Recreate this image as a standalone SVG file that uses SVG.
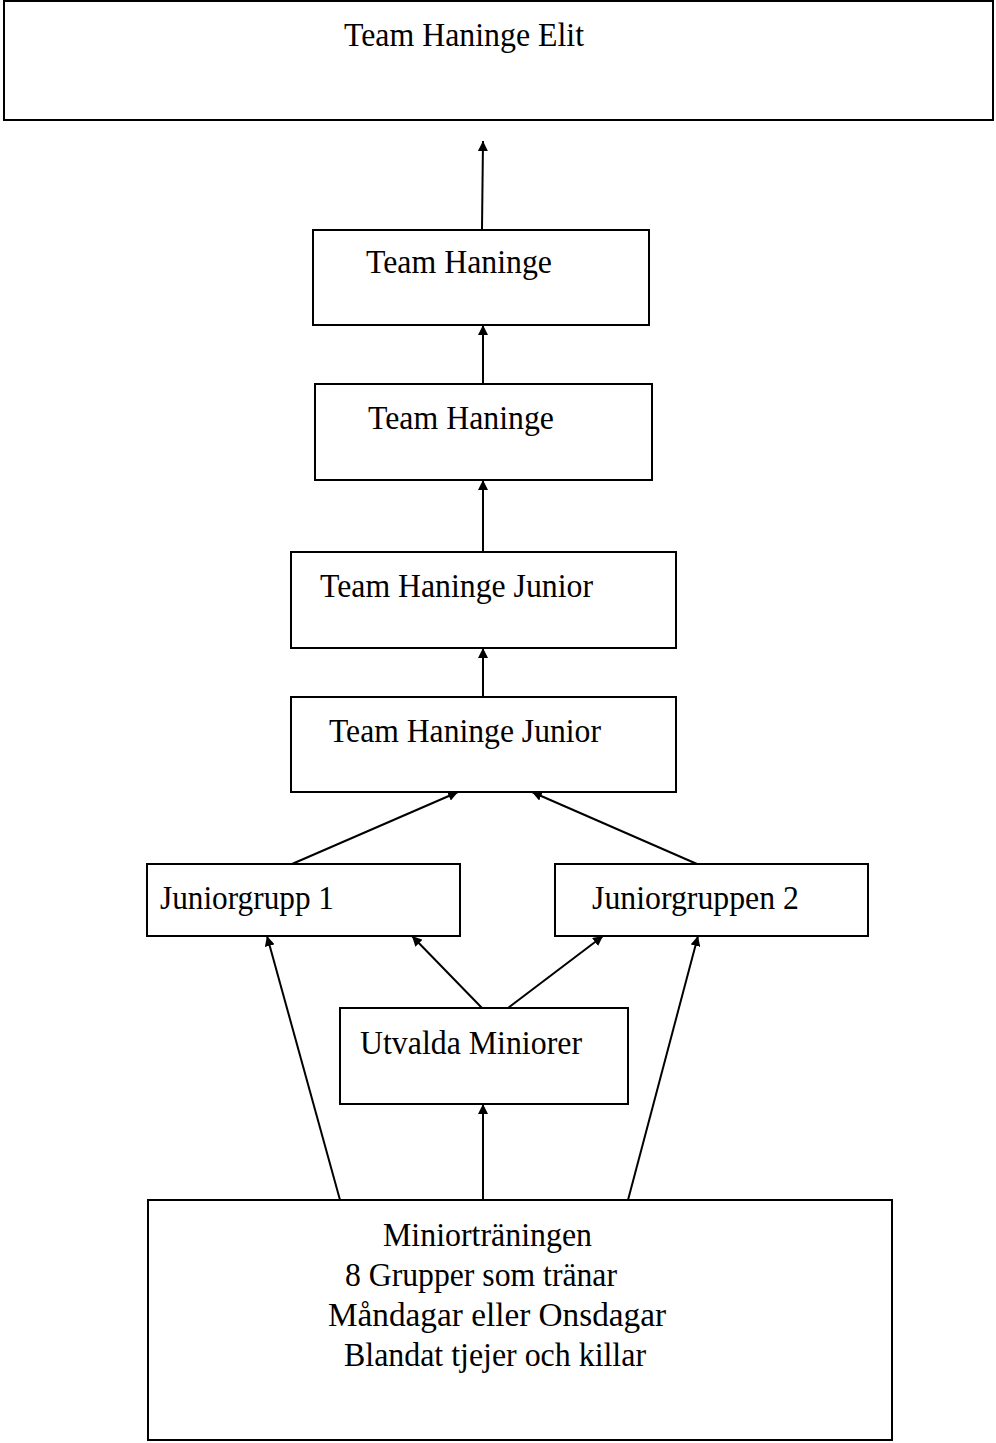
<svg xmlns="http://www.w3.org/2000/svg" width="996" height="1443" viewBox="0 0 996 1443">
<style>
.box{fill:#fff;stroke:#000;stroke-width:2}
.t{font-family:"Liberation Serif","Times New Roman",serif;font-size:34px;fill:#000}
.c{stroke:#000;stroke-width:2;fill:none;marker-end:url(#ah)}
</style>
<defs>
<marker id="ah" viewBox="0 0 10 10" refX="10" refY="5" markerWidth="5" markerHeight="5" orient="auto" markerUnits="strokeWidth">
<path d="M0,0 L10,5 L0,10 z" fill="#000"/>
</marker>
</defs>
<rect width="996" height="1443" fill="#fff"/>
<g id="connectors">
<line class="c" x1="482" y1="229" x2="483" y2="141"/>
<line class="c" x1="483" y1="384" x2="483" y2="325"/>
<line class="c" x1="483" y1="552" x2="483" y2="480"/>
<line class="c" x1="483" y1="697" x2="483" y2="648"/>
<line class="c" x1="292" y1="864" x2="458" y2="792"/>
<line class="c" x1="697" y1="864" x2="532" y2="792"/>
<line class="c" x1="482" y1="1008" x2="412" y2="936"/>
<line class="c" x1="508" y1="1008" x2="603" y2="936"/>
<line class="c" x1="340" y1="1200" x2="267" y2="936"/>
<line class="c" x1="628" y1="1200" x2="698" y2="936"/>
<line class="c" x1="483" y1="1200" x2="483" y2="1104"/>
</g>
<g id="elit"><rect class="box" x="4" y="1" width="989" height="119"/><text class="t" x="344" y="46" textLength="240" lengthAdjust="spacingAndGlyphs">Team Haninge Elit</text></g>
<g id="haninge1"><rect class="box" x="313" y="230" width="336" height="95"/><text class="t" x="366" y="273" textLength="186" lengthAdjust="spacingAndGlyphs">Team Haninge</text></g>
<g id="haninge2"><rect class="box" x="315" y="384" width="337" height="96"/><text class="t" x="368" y="429" textLength="186" lengthAdjust="spacingAndGlyphs">Team Haninge</text></g>
<g id="junior1"><rect class="box" x="291" y="552" width="385" height="96"/><text class="t" x="320" y="597" textLength="273" lengthAdjust="spacingAndGlyphs">Team Haninge Junior</text></g>
<g id="junior2"><rect class="box" x="291" y="697" width="385" height="95"/><text class="t" x="329" y="742" textLength="272" lengthAdjust="spacingAndGlyphs">Team Haninge Junior</text></g>
<g id="jg1"><rect class="box" x="147" y="864" width="313" height="72"/><text class="t" x="160" y="909" textLength="174" lengthAdjust="spacingAndGlyphs">Juniorgrupp 1</text></g>
<g id="jg2"><rect class="box" x="555" y="864" width="313" height="72"/><text class="t" x="592" y="909" textLength="207" lengthAdjust="spacingAndGlyphs">Juniorgruppen 2</text></g>
<g id="utvalda"><rect class="box" x="340" y="1008" width="288" height="96"/><text class="t" x="360" y="1054" textLength="222" lengthAdjust="spacingAndGlyphs">Utvalda Miniorer</text></g>
<g id="minior"><rect class="box" x="148" y="1200" width="744" height="240"/>
<text class="t" x="383" y="1246" textLength="209" lengthAdjust="spacingAndGlyphs">Miniorträningen</text>
<text class="t" x="345" y="1286" textLength="272" lengthAdjust="spacingAndGlyphs">8 Grupper som tränar</text>
<text class="t" x="328" y="1326" textLength="338" lengthAdjust="spacingAndGlyphs">Måndagar eller Onsdagar</text>
<text class="t" x="344" y="1366" textLength="302" lengthAdjust="spacingAndGlyphs">Blandat tjejer och killar</text>
</g>
</svg>
